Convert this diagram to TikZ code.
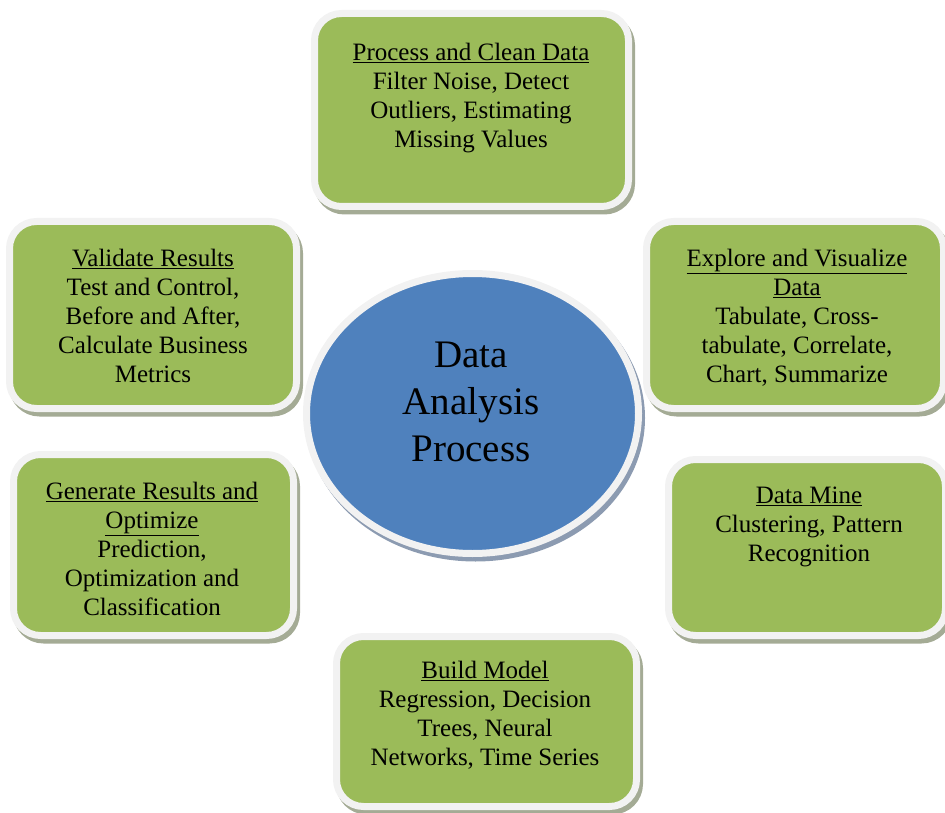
\documentclass[tikz,border=0pt]{standalone}
\usepackage{fontspec}
\setmainfont{Liberation Serif}
\usepackage{tikz}
\usetikzlibrary{shapes.geometric}

\definecolor{vertbloc}{HTML}{9BBB59}
\definecolor{bleucentre}{HTML}{4F81BD}
\definecolor{anneau}{HTML}{F2F2F2}
\definecolor{ombreverte}{HTML}{A4AB95}
\definecolor{ombrebleue}{HTML}{8C9BB1}

\begin{document}
\begin{tikzpicture}[x=1pt, y=-1pt,
    bloc/.style={rectangle, rounded corners=27pt, fill=vertbloc, draw=anneau, line width=7pt, inner sep=0pt,
      preaction={draw=ombreverte, fill=ombreverte, line width=7pt, transform canvas={shift={(3,4.5)}}}},
    centre/.style={ellipse, fill=bleucentre, draw=anneau, line width=7pt, inner sep=0pt,
      minimum width=332pt, minimum height=280pt,
      preaction={draw=ombrebleue, fill=ombrebleue, line width=7pt, transform canvas={shift={(3,4.5)}}}},
    etiq/.style={font=\fontsize{25}{29}\selectfont, align=center, inner sep=0pt, anchor=north}]
  % Cadre de la page
  \useasboundingbox (0,0) rectangle (945,813);
  \clip (0,0) rectangle (945,813);
  % Blocs verts (étapes)
  \node[bloc, minimum width=314pt, minimum height=193pt] (clean) at (471.5,110) {};
  \node[bloc, minimum width=297pt, minimum height=187pt] (explore) at (795,315) {};
  \node[bloc, minimum width=277pt, minimum height=176pt] (mine) at (807,547.5) {};
  \node[bloc, minimum width=300pt, minimum height=170pt] (model) at (486.5,721.5) {};
  \node[bloc, minimum width=280pt, minimum height=181pt] (generate) at (153.5,545) {};
  \node[bloc, minimum width=287pt, minimum height=187pt] (validate) at (153,315) {};
  % Ellipse centrale
  \node[centre] (dap) at (472.5,413.5) {};
  % Textes des blocs
  \node[etiq] (clean-txt) at (471,43) {\underline{Process and Clean Data}\\Filter Noise, Detect\\Outliers, Estimating\\Missing Values};
  \node[etiq] (explore-txt) at (797,249) {\underline{Explore and Visualize}\\\underline{Data}\\Tabulate, Cross-\\tabulate, Correlate,\\Chart, Summarize};
  \node[etiq] (mine-txt) at (809,487) {\underline{Data Mine}\\Clustering, Pattern\\Recognition};
  \node[etiq] (model-txt) at (485,661) {\underline{Build Model}\\Regression, Decision\\Trees, Neural\\Networks, Time Series};
  \node[etiq] (generate-txt) at (152,482) {\underline{Generate Results and}\\\underline{Optimize}\\Prediction,\\Optimization and\\Classification};
  \node[etiq] (validate-txt) at (153,249) {\underline{Validate Results}\\Test and Control,\\Before and After,\\Calculate Business\\Metrics};
  % Titre au centre
  \node[etiq, font=\fontsize{39}{47}\selectfont] (dap-txt) at (471,342) {Data\\Analysis\\Process};
\end{tikzpicture}
\end{document}
